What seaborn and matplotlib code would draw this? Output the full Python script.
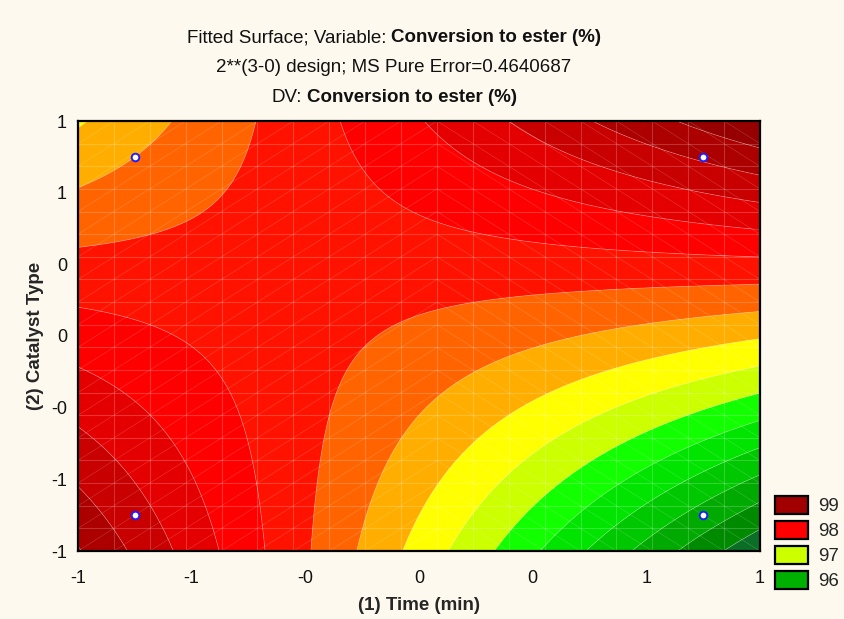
import numpy as np
import matplotlib
matplotlib.use("Agg")
import matplotlib.pyplot as plt
import matplotlib.tri as mtri
from matplotlib.patches import Patch
from matplotlib.collections import LineCollection
import seaborn as sns

# ---- data: 2**(3-0) design, coded factor levels and response (cell means) ----
time_coded = [-1, 1, -1, 1]
catalyst_coded = [-1, -1, 1, 1]
conversion = [98.85, 96.15, 97.75, 99.04]

# contour levels and band colours (low -> high)
levels = [95.25, 95.5, 95.75, 96.0, 96.25, 96.5, 96.75, 97.0, 97.25, 97.5,
          97.75, 98.0, 98.25, 98.5, 98.75, 99.0, 99.25, 99.5, 99.75]
band_colors = ['#006428', '#0B6E27', '#008A00', '#00AA00', '#00C800', '#00E400',
               '#12FF00', '#CCFF00', '#FFFF00', '#FFAE00', '#FF6400', '#FF1200',
               '#FF0000', '#E40000', '#C80000', '#AC0000', '#960000', '#840000']

legend_values = ['99', '98', '97', '96']
legend_colors = ['#A00000', '#FF0000', '#CCFF00', '#00B000']

xtick_vals = [-1.2, -0.8, -0.4, 0.0, 0.4, 0.8, 1.2]
xtick_labels = ['-1', '-1', '-0', '0', '0', '1', '1']
ytick_vals = [-1.2, -0.8, -0.4, 0.0, 0.4, 0.8, 1.2]
ytick_labels = ['-1', '-1', '-0', '0', '0', '1', '1']
minor_vals = [-1.0, -0.6, -0.2, 0.2, 0.6, 1.0]

# ---- fit the first-order model with interaction: z = b0 + b1 x + b2 y + b12 x y ----
xd = np.array(time_coded, float)
yd = np.array(catalyst_coded, float)
zd = np.array(conversion, float)
A = np.column_stack([np.ones_like(xd), xd, yd, xd * yd])
coef, *_ = np.linalg.lstsq(A, zd, rcond=None)


def surface(x, y):
    return coef[0] + coef[1] * x + coef[2] * y + coef[3] * x * y


# ---- style ----
sns.set_style("white")
bg = '#FDF9EE'
plt.rcParams['font.family'] = ['Liberation Sans', 'DejaVu Sans']
plt.rcParams['figure.facecolor'] = bg
plt.rcParams['savefig.facecolor'] = bg
FS = 13.5

W, H = 844, 619
fig = plt.figure(figsize=(W / 100, H / 100), dpi=100)
ax = fig.add_axes([78 / W, 1 - 551 / H, (760 - 78) / W, (551 - 121) / H])

gx = np.linspace(-1.2, 1.2, 241)
GX, GY = np.meshgrid(gx, gx)
GZ = surface(GX, GY)
ax.contourf(GX, GY, GZ, levels=levels, colors=band_colors, antialiased=True)
ax.contour(GX, GY, GZ, levels=levels, colors='white', linewidths=0.6, alpha=0.25)

# STATISTICA-like mesh of the fitted surface
n = 20
mx = np.linspace(-1.2, 1.2, n)
MX, MY = np.meshgrid(mx, mx)
tris = []
for j in range(n - 1):
    for i in range(n - 1):
        a = j * n + i
        b = a + 1
        c = a + n
        d = c + 1
        if i < 10:
            tris += [[a, b, d], [a, d, c]]
        else:
            tris += [[a, b, c], [b, d, c]]
tri = mtri.Triangulation(MX.ravel(), MY.ravel(), np.array(tris))
px, py = tri.x, tri.y
grid_segs, diag_segs = [], []
for e0, e1 in tri.edges:
    seg = [(px[e0], py[e0]), (px[e1], py[e1])]
    if np.isclose(px[e0], px[e1]) or np.isclose(py[e0], py[e1]):
        grid_segs.append(seg)
    else:
        diag_segs.append(seg)
ax.add_collection(LineCollection(grid_segs, colors='white', linewidths=0.8, alpha=0.2))
ax.add_collection(LineCollection(diag_segs, colors='white', linewidths=0.5, alpha=0.18))

sns.scatterplot(x=time_coded, y=catalyst_coded, ax=ax, s=30, color='white',
                edgecolor='#1E1EFF', linewidth=1.4, zorder=6, legend=False)

ax.set_xlim(-1.2, 1.2)
ax.set_ylim(-1.2, 1.2)
ax.set_xticks(xtick_vals)
ax.set_xticklabels(xtick_labels)
ax.set_yticks(ytick_vals)
ax.set_yticklabels(ytick_labels)
ax.set_xticks(minor_vals, minor=True)
ax.set_yticks(minor_vals, minor=True)
ax.tick_params(which='both', direction='in', length=4, width=1.2, top=True,
               right=True, color='black', labelsize=13, labelcolor='#111111')
ax.tick_params(axis='x', which='both', pad=14)
ax.tick_params(axis='y', which='both', pad=8)
for s in ax.spines.values():
    s.set_linewidth(1.6)
    s.set_color('black')

ax.set_xlabel('(1) Time (min)', fontsize=FS, fontweight='bold', labelpad=7)
ax.set_ylabel('(2) Catalyst Type', fontsize=FS, fontweight='bold', labelpad=5)

# ---- title (mixed regular / bold) ----
renderer = fig.canvas.get_renderer()


def mixed_line(parts, y_px, cx_px=394, fs=FS):
    texts, widths = [], []
    for s, w in parts:
        t = fig.text(0, 0, s, fontsize=fs, fontweight=w, ha='left', va='center',
                     color='#111111')
        bb = t.get_window_extent(renderer)
        texts.append(t)
        widths.append(bb.width)
    gap = 5.2
    total = sum(widths) + gap * (len(parts) - 1)
    x = cx_px - total / 2
    for t, wd in zip(texts, widths):
        t.set_position((x / W, 1 - y_px / H))
        x += wd + gap


mixed_line([('Fitted Surface; Variable:', 'normal'),
            ('Conversion to ester (%)', 'bold')], 38)
mixed_line([('2**(3-0) design; MS Pure Error=0.4640687', 'normal')], 67)
mixed_line([('DV:', 'normal'), ('Conversion to ester (%)', 'bold')], 97)

# ---- legend ----
handles = [Patch(facecolor=c, edgecolor='black', linewidth=1.6) for c in legend_colors]
fig.legend(handles, legend_values, loc='upper left',
           bbox_to_anchor=(775 / W, 1 - 496 / H), frameon=False, fontsize=FS,
           handlelength=1.75, handleheight=1.08, handletextpad=0.55,
           labelspacing=0.31, borderpad=0, borderaxespad=0)

fig.savefig('out.png', dpi=100, facecolor=bg)
